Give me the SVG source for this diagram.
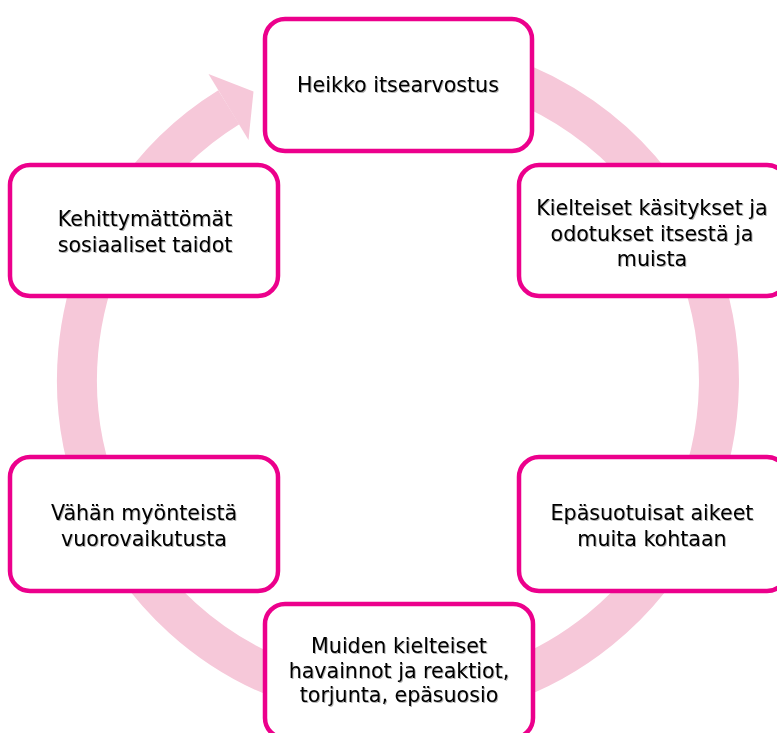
<svg xmlns="http://www.w3.org/2000/svg" width="777" height="733" viewBox="0 0 777 733">
  <defs>
    <filter id="sh" x="-10%" y="-30%" width="120%" height="160%">
      <feDropShadow dx="1" dy="1" stdDeviation="0.7" flood-color="#000" flood-opacity="0.3"/>
    </filter>
  </defs>
  <style>
    .box { fill: #ffffff; stroke: #ec008c; stroke-width: 4.5; }
    .ring { fill: none; stroke: #f6c8d9; stroke-width: 40; }
    .head { fill: #f6c8d9; }
    text { font-family: "DejaVu Sans", "Liberation Sans", sans-serif; font-size: 20.6px; fill: #000; text-anchor: middle; filter: url(#sh); }
  </style>
  <rect width="777" height="733" fill="#ffffff"/>
  <g id="connectors">
    <path class="ring" d="M 453.7 63.9 A 321 321 0 1 1 228.8 107.2"/>
    <polygon class="head" points="208.5,74 253.5,91.5 248.5,140"/>
  </g>
  <g id="n1">
    <rect class="box" x="265" y="19" width="267" height="132" rx="20"/>
    <text x="398" y="92">Heikko itsearvostus</text>
  </g>
  <g id="n2">
    <rect class="box" x="519" y="165" width="268" height="131" rx="20"/>
    <text x="652"><tspan x="652" y="215">Kielteiset käsitykset ja</tspan><tspan x="652" y="241">odotukset itsestä ja</tspan><tspan x="652" y="266">muista</tspan></text>
  </g>
  <g id="n3">
    <rect class="box" x="519" y="457" width="268" height="134" rx="20"/>
    <text x="652"><tspan x="652" y="520">Epäsuotuisat aikeet</tspan><tspan x="652" y="546">muita kohtaan</tspan></text>
  </g>
  <g id="n4">
    <rect class="box" x="265" y="604" width="268" height="134" rx="20"/>
    <text x="399"><tspan x="399" y="653">Muiden kielteiset</tspan><tspan x="399" y="678">havainnot ja reaktiot,</tspan><tspan x="399" y="702">torjunta, epäsuosio</tspan></text>
  </g>
  <g id="n5">
    <rect class="box" x="10" y="457" width="268" height="134" rx="20"/>
    <text x="144"><tspan x="144" y="520">Vähän myönteistä</tspan><tspan x="144" y="546">vuorovaikutusta</tspan></text>
  </g>
  <g id="n6">
    <rect class="box" x="10" y="165" width="268" height="131" rx="20"/>
    <text x="145"><tspan x="145" y="226">Kehittymättömät</tspan><tspan x="145" y="252">sosiaaliset taidot</tspan></text>
  </g>
</svg>
